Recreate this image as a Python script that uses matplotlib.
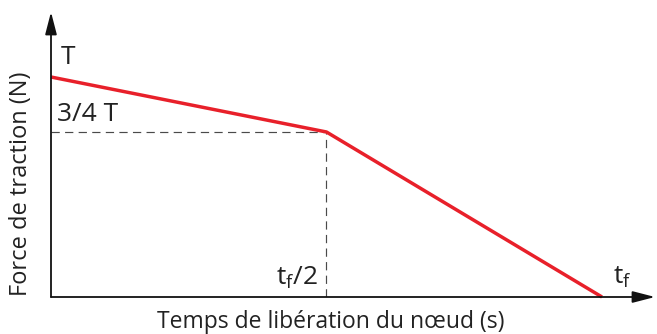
import matplotlib
matplotlib.use('Agg')
import matplotlib.pyplot as plt

# Force profile while the knot releases (time in units of tf, force in units of T)
times = [0.0, 0.5, 1.0]
forces = [1.0, 0.75, 0.0]
x_label = "Temps de libération du nœud (s)"
y_label = "Force de traction (N)"

plt.rcParams['font.family'] = ['Open Sans', 'DejaVu Sans']

fig = plt.figure(figsize=(6.57, 3.34), dpi=100)
W, H = 657, 334
# axes box in pixels: left edge = y axis, bottom edge = x axis
ax = fig.add_axes([51 / W, 37 / H, (655 - 51) / W, (297 - 12) / H])
ax.set_xlim(0, (655 - 51) / 551)
ax.set_ylim(0, (297 - 12) / 220)
for s in ax.spines.values():
    s.set_visible(False)
ax.set_xticks([])
ax.set_yticks([])
ax.patch.set_alpha(0)

# axes with arrow heads
arrow = dict(arrowstyle='-|>,head_length=0.85,head_width=0.22', color='#111111',
             lw=1.3, mutation_scale=16, shrinkA=0, shrinkB=0)
ax.annotate('', xy=(1, 0), xytext=(0, 0), xycoords='axes fraction', arrowprops=arrow)
ax.annotate('', xy=(0, 1), xytext=(0, 0), xycoords='axes fraction', arrowprops=arrow)

# guide lines to the break point
tm, fm = times[1], forces[1]
dash = (0, (7, 4.5))
ax.plot([0, tm], [fm, fm], color='#4a4a4a', lw=0.85, ls=dash)
ax.plot([tm, tm], [0, fm], color='#4a4a4a', lw=0.85, ls=dash)

ax.plot(times, forces, color='#e8202a', lw=2.5, solid_capstyle='butt', clip_on=False)

lab = dict(fontsize=19, color='#222222')
ax.annotate('T', xy=(times[0], forces[0]), xytext=(7, 5), textcoords='offset points',
            ha='left', va='bottom', **lab)
ax.annotate('3/4 T', xy=(times[0], fm), xytext=(4, 3.5), textcoords='offset points',
            ha='left', va='bottom', **lab)
ax.annotate(r't$_\mathregular{f}$/2', xy=(tm, 0), xytext=(-6.5, 9), textcoords='offset points',
            ha='right', va='baseline', **lab)
ax.annotate(r't$_\mathregular{f}$', xy=(times[2], 0), xytext=(8, 10), textcoords='offset points',
            ha='left', va='baseline', **lab)

fig.text(331 / W, 1 - 322 / H, x_label, ha='center', va='center', fontsize=16.5, color='#222222')
fig.text(21 / W, 1 - 184 / H, y_label, ha='center', va='center', rotation=90,
         fontsize=17, color='#222222')

fig.savefig('out.png', dpi=100)
